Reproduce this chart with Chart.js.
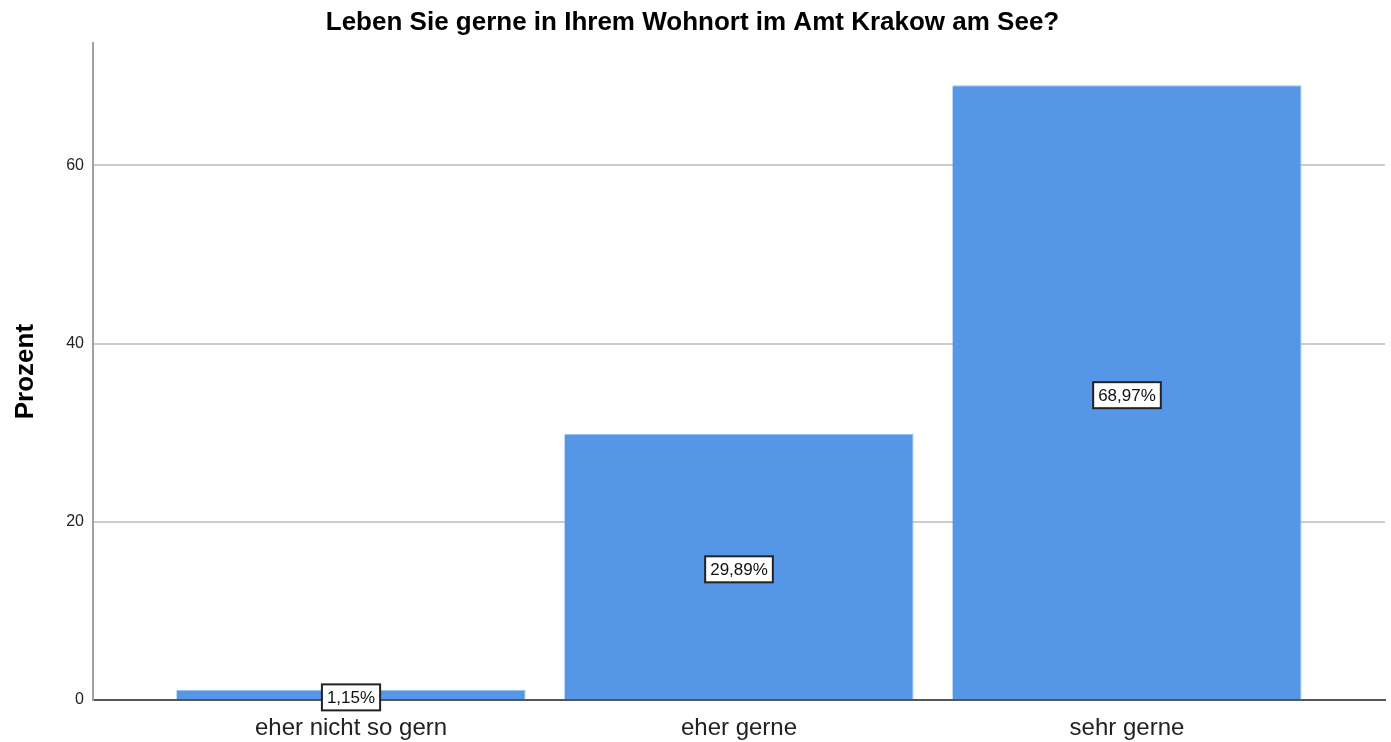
<!DOCTYPE html>
<html>
<head>
<meta charset="utf-8">
<script src="https://cdn.jsdelivr.net/npm/chart.js@4/dist/chart.umd.min.js"></script>
<style>
  html, body { margin: 0; padding: 0; background: #fff; }
  #wrap { width: 1391px; height: 742px; }
</style>
</head>
<body>
<div id="wrap"><canvas id="c" width="1391" height="742"></canvas></div>
<script>
var categories = ['eher nicht so gern', 'eher gerne', 'sehr gerne'];
var percentValues = [1.15, 29.89, 68.97];
var yTickValues = [0, 20, 40, 60];
var chartTitle = 'Leben Sie gerne in Ihrem Wohnort im Amt Krakow am See?';
var yTitle = 'Prozent';

(function(){
  var FONT = "'Liberation Sans', Arial, sans-serif";
  var barColor = '#5596e6';

  function fmt(v){ return v.toFixed(2).replace('.', ',') + '%'; }

  // value boxes in the middle of each bar
  var boxLabels = {
    id: 'boxLabels',
    afterDatasetsDraw: function(chart){
      var ctx = chart.ctx;
      var meta = chart.getDatasetMeta(0);
      ctx.save();
      ctx.font = '17px ' + FONT;
      ctx.textAlign = 'center';
      ctx.textBaseline = 'middle';
      meta.data.forEach(function(bar, i){
        var text = fmt(percentValues[i]);
        var cx = bar.x;
        var cy = (bar.y + bar.base) / 2 + 3;
        var w = ctx.measureText(text).width + 10;
        var h = 26;
        ctx.fillStyle = '#ffffff';
        ctx.fillRect(cx - w/2, cy - h/2, w, h);
        ctx.lineWidth = 2;
        ctx.strokeStyle = '#222222';
        ctx.strokeRect(cx - w/2, cy - h/2, w, h);
        ctx.fillStyle = '#111111';
        ctx.fillText(text, cx, cy + 1);
      });
      ctx.restore();
    }
  };

  var points = percentValues.map(function(v, i){ return { x: i, y: v }; });

  new Chart(document.getElementById('c').getContext('2d'), {
    type: 'bar',
    data: {
      datasets: [{
        label: yTitle,
        data: points,
        backgroundColor: barColor,
        borderColor: '#9cc3f1',
        borderWidth: { top: 1, right: 1, left: 0, bottom: 0 },
        borderSkipped: 'bottom',
        barPercentage: 0.9,
        categoryPercentage: 1.0
      }]
    },
    options: {
      responsive: false,
      animation: false,
      layout: { padding: { left: 0, right: 6, top: 0, bottom: 0 } },
      plugins: {
        legend: { display: false },
        tooltip: { enabled: false },
        title: {
          display: true,
          text: chartTitle,
          color: '#000',
          font: { family: FONT, size: 26, weight: 'bold', lineHeight: 1.2 },
          padding: { top: 7, bottom: 5 }
        }
      },
      scales: {
        x: {
          type: 'linear',
          min: -0.665,
          max: 2.665,
          offset: false,
          afterBuildTicks: function(scale){
            scale.ticks = categories.map(function(c, i){ return { value: i }; });
          },
          afterFit: function(scale){ scale.height = 42; },
          grid: { display: false, drawTicks: false },
          border: { display: true, color: '#555555', width: 2 },
          ticks: {
            autoSkip: false,
            maxRotation: 0,
            padding: 14,
            color: '#222',
            font: { family: FONT, size: 24 },
            callback: function(v){ return categories[v] || ''; }
          }
        },
        y: {
          min: 0,
          max: 73.7,
          afterBuildTicks: function(scale){
            scale.ticks = yTickValues.map(function(v){ return { value: v }; });
          },
          afterFit: function(scale){ scale.width = 93; },
          grid: {
            drawTicks: false,
            lineWidth: 2,
            color: function(c){ return c.tick && c.tick.value === 0 ? 'rgba(0,0,0,0)' : '#cccccc'; }
          },
          border: { display: true, color: '#a0a0a0', width: 2 },
          ticks: {
            padding: 9,
            color: '#222',
            font: { family: FONT, size: 16 },
            callback: function(v){ return String(v); }
          },
          title: {
            display: true,
            text: yTitle,
            color: '#000',
            font: { family: FONT, size: 26, weight: 'bold', lineHeight: 1.2 },
            padding: { top: 10, bottom: 0 }
          }
        }
      }
    },
    plugins: [boxLabels]
  });
})();
</script>
</body>
</html>
